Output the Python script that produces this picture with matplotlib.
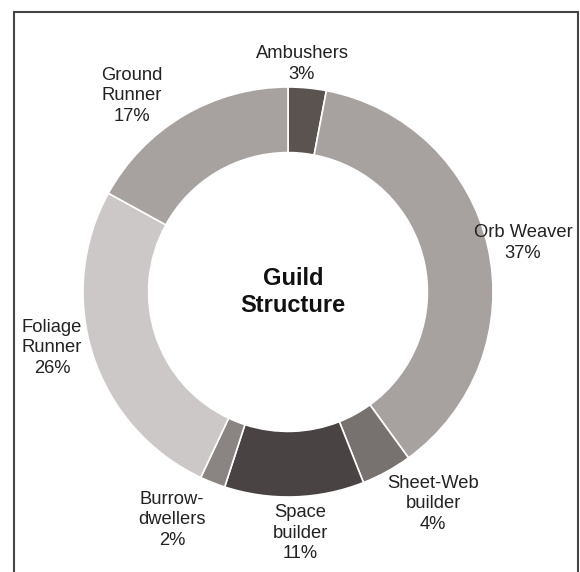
import matplotlib.pyplot as plt
from matplotlib.patches import Rectangle

plt.rcParams["font.family"] = ["Liberation Sans", "DejaVu Sans"]

guilds = ["Ambushers", "Orb Weaver", "Sheet-Web\nbuilder", "Space\nbuilder",
          "Burrow-\ndwellers", "Foliage\nRunner", "Ground\nRunner"]
shares = [3, 37, 4, 11, 2, 26, 17]
colors = ["#5b5350", "#a7a2a0", "#77716f", "#494443", "#8a8483", "#cbc8c7", "#a7a2a0"]

W, H = 580, 572
# label anchor positions in pixels (x, y from top)
label_pos = [(302, 64), (523, 243), (433, 504), (300, 533),
             (172, 520), (52, 348), (132, 96)]

fig = plt.figure(figsize=(W / 100, H / 100), dpi=100)
ax = fig.add_axes([0, 0, 1, 1])

cx, cy, r = 288, H - 292, 205
ax.pie(shares, colors=colors, startangle=90, counterclock=False,
       center=(cx, cy), radius=r, frame=True,
       wedgeprops=dict(width=r * 0.32, edgecolor="white", linewidth=1.2))
ax.set_xlim(0, W)
ax.set_ylim(0, H)
ax.set_aspect("equal")
ax.axis("off")

for name, val, (px, py) in zip(guilds, shares, label_pos):
    ax.text(px, H - py, f"{name}\n{val}%", ha="center", va="center",
            fontsize=13.2, color="#222222", linespacing=1.3)

ax.text(cx + 5, H - 292, "Guild\nStructure", ha="center", va="center",
        fontsize=17, fontweight="bold", color="#111111", linespacing=1.25)

fig.patches.append(Rectangle((13.5 / W, -0.1), (578 - 13.5) / W, 1.1 - 12 / H,
                             transform=fig.transFigure, fill=False,
                             edgecolor="#444444", linewidth=1.5))

fig.savefig("out.png", dpi=100)
